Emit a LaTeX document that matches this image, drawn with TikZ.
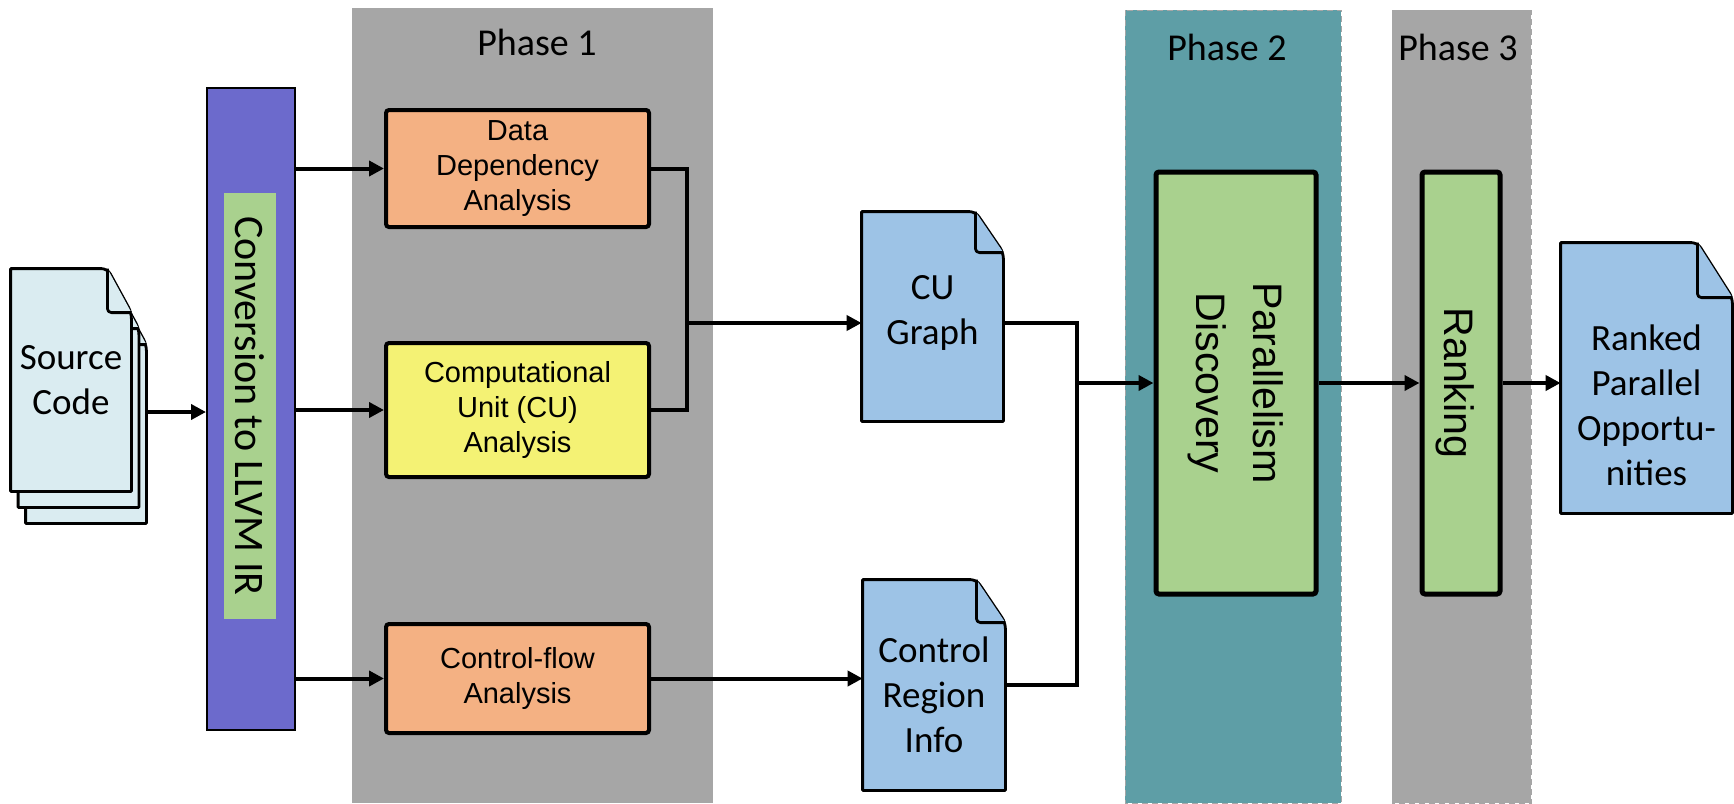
\documentclass[tikz,border=0pt]{standalone}
\usepackage{fontspec}
\setmainfont{Carlito}
\newfontfamily\arialfont{Liberation Sans}
\usetikzlibrary{arrows.meta}

\definecolor{phasegray}{RGB}{166,166,166}
\definecolor{phaseteal}{RGB}{94,158,166}
\definecolor{irpurple}{RGB}{108,106,204}
\definecolor{stepgreen}{RGB}{169,209,142}
\definecolor{steporange}{RGB}{244,177,131}
\definecolor{stepyellow}{RGB}{244,242,116}
\definecolor{docblue}{RGB}{157,195,230}
\definecolor{srcblue}{RGB}{218,236,241}

\pgfdeclarelayer{bg}
\pgfsetlayers{bg,main}

\tikzset{
  arr/.style={line width=2pt,-{Triangle[length=7.5pt,width=7.5pt]}},
  conn/.style={line width=2pt},
  stepbox/.style={draw,line width=2pt,rounded corners=1.5pt,inner sep=0pt,align=center,
    font=\arialfont\fontsize{14.5}{17.5}\selectfont},
  bigbox/.style={draw,line width=2.5pt,rounded corners=1.5pt,fill=stepgreen,inner sep=0pt},
  bigtext/.style={rotate=-90,align=center,font=\arialfont\fontsize{20.6}{28.5}\selectfont},
  doc/.style={inner sep=0pt},
  doctext/.style={align=center,font=\fontsize{18.5}{22.5}\selectfont},
  docline/.style={line width=1.4pt,line join=round},
  phaselabel/.style={anchor=base,font=\fontsize{19}{23}\selectfont},
}

% page with a folded corner: node, fold width, fold height, fill
\newcommand\docpage[4]{%
  \draw[docline,fill=#4] (#1.south west) -- (#1.north west)
    [rounded corners=3pt] -- ([xshift=-#2]#1.north east) -- ([yshift=-#3]#1.north east)
    [sharp corners] -- (#1.south east) -- cycle;
  \draw[docline,fill=#4,rounded corners=2pt] ([xshift=-#2]#1.north east)
    -- ([xshift=-#2,yshift=-#3]#1.north east) -- ([yshift=-#3]#1.north east);
}

\begin{document}
\begin{tikzpicture}[x=0.5pt,y=-0.5pt]
  \useasboundingbox (0,0) rectangle (1734,803);

  \begin{pgfonlayer}{bg}
    \fill[phasegray] (352,8) rectangle (713,803);
    \foreach \xa/\xb/\c in {1125/1341/phaseteal,1392/1531/phasegray} {
      \draw[fill=\c,draw=black!35,densely dashed,line width=0.4pt] (\xa,10) rectangle (\xb,803);
    }
  \end{pgfonlayer}
  \node[phaselabel] (ph1) at (537,55) {Phase 1};
  \node[phaselabel] (ph2) at (1227,61) {Phase 2};
  \node[phaselabel] (ph3) at (1458,61) {Phase 3};

  \foreach \i/\dx/\dy in {3/15/32,2/7.5/16,1/0/0} {
    \node[doc,minimum width=60pt,minimum height=111pt] (src\i) at (71+\dx,380+\dy) {};
    \begin{pgfonlayer}{bg}\docpage{src\i}{12pt}{22pt}{srcblue}\end{pgfonlayer}
  }
  \node[doctext] (srctext) at (src1.center) {Source\\Code};

  \node[draw,line width=1pt,fill=irpurple,minimum width=44pt,minimum height=321pt] (llvm) at (251,409) {};
  \node[fill=stepgreen,inner sep=0pt,rotate=-90,minimum width=213pt,minimum height=26pt,
    font=\fontsize{21}{25}\selectfont] (conv) at (250,406) {Conversion to LLVM IR};

  \node[stepbox,fill=steporange,minimum width=131.5pt,minimum height=58.5pt] (dd) at (517.5,168.5) {Data\\Dependency\\Analysis};
  \node[stepbox,fill=stepyellow,minimum width=131.5pt,minimum height=67pt] (cu) at (517.5,410) {Computational\\Unit (CU)\\Analysis};
  \node[stepbox,fill=steporange,minimum width=131.5pt,minimum height=54.5pt] (cf) at (517.5,678.5) {Control-flow\\Analysis};

  \node[doc,minimum width=70.5pt,minimum height=104.5pt] (cug) at (932.5,316.5) {};
  \node[doc,minimum width=71pt,minimum height=105pt] (cri) at (934,685) {};
  \node[doc,minimum width=85.5pt,minimum height=135pt] (rpo) at (1646.5,378) {};
  \begin{pgfonlayer}{bg}
    \docpage{cug}{14pt}{20.5pt}{docblue}
    \docpage{cri}{14.5pt}{21.5pt}{docblue}
    \docpage{rpo}{17.5pt}{27.5pt}{docblue}
  \end{pgfonlayer}
  \node[doctext] (cugtext) at ([yshift=2pt]cug.center) {CU\\Graph};
  \node[doctext] (critext) at ([yshift=-5pt]cri.center) {Control\\Region\\Info};
  \node[doctext] (rpotext) at ([yshift=-13.5pt]rpo.center) {Ranked\\Parallel\\Opportu-\\nities};

  \node[bigbox,minimum width=80pt,minimum height=211pt] (par) at (1236,383) {};
  \node[bigtext] (partext) at (par) {Parallelism\\Discovery};
  \node[bigbox,minimum width=39pt,minimum height=211pt] (rank) at (1461,383) {};
  \node[bigtext] (ranktext) at ([xshift=-3pt]rank.center) {Ranking};

  \coordinate (j1) at (687,323);
  \coordinate (j2) at (1077,383);

  \draw[arr] (src3.east) -- (src3.east -| llvm.west);
  \foreach \n in {dd,cu,cf} {
    \draw[arr] (llvm.east |- \n.west) -- (\n.west);
  }
  \draw[conn] (dd.east) -| (j1);
  \draw[conn] (cu.east) -| (j1);
  \draw[arr] (j1) -- (j1 -| cug.west);
  \draw[arr] (cf.east) -- (cf.east -| cri.west);
  \draw[conn] (j1 -| cug.east) -| (j2);
  \draw[conn] (cri.east) -| (j2);
  \draw[arr] (j2) -- (par.west);
  \draw[arr] (par.east) -- (rank.west);
  \draw[arr] (rank.east) -- (rank.east -| rpo.west);
\end{tikzpicture}
\end{document}
